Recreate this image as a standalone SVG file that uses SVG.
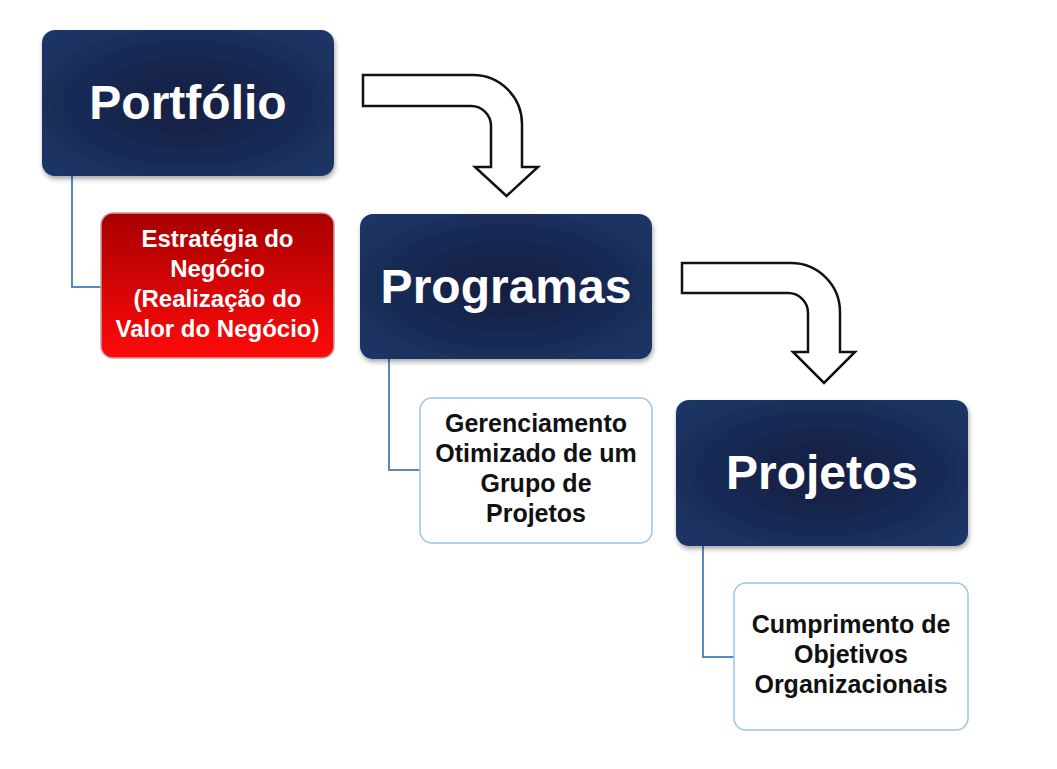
<svg xmlns="http://www.w3.org/2000/svg" width="1057" height="769" viewBox="0 0 1057 769">
<defs>
<radialGradient id="navy" cx="50%" cy="50%" r="70%">
<stop offset="0" stop-color="#121d40"/>
<stop offset="0.55" stop-color="#182b55"/>
<stop offset="1" stop-color="#1e3669"/>
</radialGradient>
<linearGradient id="red" x1="0" y1="0" x2="0" y2="1">
<stop offset="0" stop-color="#a80000"/>
<stop offset="1" stop-color="#ff0a0a"/>
</linearGradient>
<filter id="sh" x="-10%" y="-10%" width="125%" height="130%">
<feGaussianBlur in="SourceAlpha" stdDeviation="2.5"/>
<feOffset dx="1" dy="3"/>
<feComponentTransfer><feFuncA type="linear" slope="0.35"/></feComponentTransfer>
<feMerge><feMergeNode/><feMergeNode in="SourceGraphic"/></feMerge>
</filter>
</defs>
<style>
.main{fill:url(#navy);filter:url(#sh);}
.title{font-family:"Liberation Sans",Arial,sans-serif;font-weight:bold;font-size:48px;fill:#ffffff;text-anchor:middle;}
.redbox{fill:url(#red);stroke:#c9a0a0;stroke-width:1.5;}
.whitebox{fill:#ffffff;stroke:#9dc3e6;stroke-width:1.5;}
.sub{font-family:"Liberation Sans",Arial,sans-serif;font-weight:bold;text-anchor:middle;}
.subw{fill:#ffffff;font-size:24px;}
.subb{fill:#111111;font-size:25px;}
.conn{fill:none;stroke:#5b87c0;stroke-width:2;}
.bent{fill:#ffffff;stroke:#111111;stroke-width:2.5;stroke-linejoin:miter;}
</style>
<rect width="1057" height="769" fill="#ffffff"/>
<g id="connectors">
<polyline class="conn" points="72,176 72,287 101,287"/>
<polyline class="conn" points="389,359 389,470 420,470"/>
<polyline class="conn" points="703,546 703,657 734,657"/>
<path class="bent" d="M 363 75 H 473 A 49 49 0 0 1 522 124 V 167 H 538 L 506.5 196 L 475 167 H 491 V 126 A 20 20 0 0 0 471 106 H 363 Z"/>
<path class="bent" d="M 682 263 H 791 A 49 49 0 0 1 840 312 V 352 H 855 L 824 383 L 793 352 H 808 V 313 A 20 20 0 0 0 788 293 H 682 Z"/>
</g>
<g id="portfolio">
<rect class="main" x="42" y="30" width="292" height="146" rx="13"/>
<text class="title" x="188" y="119">Portfólio</text>
</g>
<g id="estrategia">
<rect class="redbox" x="101" y="213" width="233" height="145" rx="12"/>
<text class="sub subw" x="217.5" y="247">Estratégia do</text>
<text class="sub subw" x="217.5" y="277">Negócio</text>
<text class="sub subw" x="217.5" y="307">(Realização do</text>
<text class="sub subw" x="217.5" y="337">Valor do Negócio)</text>
</g>
<g id="programas">
<rect class="main" x="360" y="214" width="292" height="145" rx="13"/>
<text class="title" x="506" y="303">Programas</text>
</g>
<g id="gerenciamento">
<rect class="whitebox" x="420" y="398" width="232" height="145" rx="12"/>
<text class="sub subb" x="536" y="432">Gerenciamento</text>
<text class="sub subb" x="536" y="462">Otimizado de um</text>
<text class="sub subb" x="536" y="492">Grupo de</text>
<text class="sub subb" x="536" y="522">Projetos</text>
</g>
<g id="projetos">
<rect class="main" x="676" y="400" width="292" height="146" rx="13"/>
<text class="title" x="822" y="489">Projetos</text>
</g>
<g id="cumprimento">
<rect class="whitebox" x="734" y="583" width="234" height="147" rx="12"/>
<text class="sub subb" x="851" y="633">Cumprimento de</text>
<text class="sub subb" x="851" y="663">Objetivos</text>
<text class="sub subb" x="851" y="693">Organizacionais</text>
</g>
</svg>
